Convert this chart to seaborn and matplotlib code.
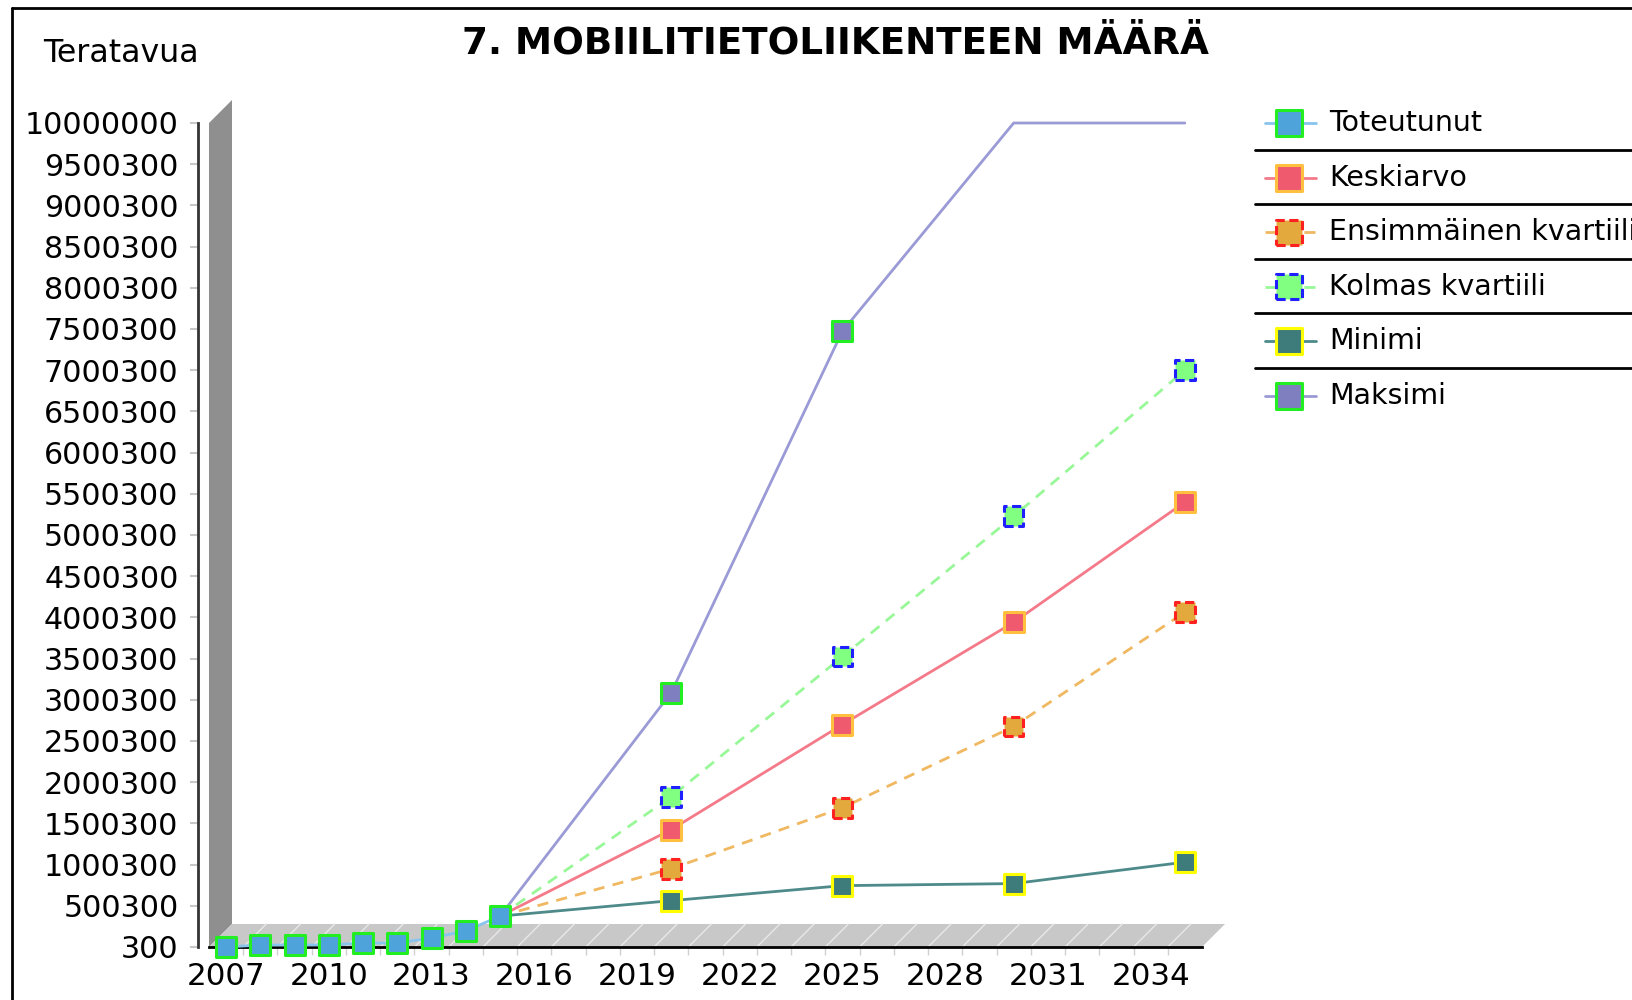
import numpy as np
import pandas as pd
import seaborn as sns
import matplotlib.pyplot as plt
from matplotlib.lines import Line2D
from matplotlib.patches import Polygon
from matplotlib.transforms import IdentityTransform

# toteutunut (actual) 2007-2015, ennusteet (forecasts) 2015-2035
years_actual = [2007, 2008, 2009, 2010, 2011, 2012, 2013, 2014, 2015]
toteutunut = [300, 24000, 24000, 26000, 48000, 48000, 110000, 195000, 375000]

years_fc = [2015, 2020, 2025, 2030, 2035]
keskiarvo = [375000, 1425000, 2700000, 3940000, 5400000]
ens_kvartiili = [375000, 950000, 1690000, 2677000, 4063000]
kolm_kvartiili = [375000, 1823000, 3525000, 5227000, 7000000]
minimi = [375000, 563000, 745000, 770000, 1030000]
maksimi = [375000, 3088000, 7475000, 10000000, 10000000]

y_ticks = [300 + 500000 * k for k in range(20)] + [10000000]
x_labels = list(range(2007, 2035, 3))

# name, x, y, line colour, linestyle, face, edge, edge style, marked points
series = [
    ("Keskiarvo", years_fc, keskiarvo, "#f47a8a", "-", "#f05a6e", "#ffc040", "-", [1, 2, 3, 4]),
    ("Ensimmäinen kvartiili", years_fc, ens_kvartiili, "#f0b860", (0, (4, 3)), "#e3a93c", "#ff2020", (0, (3, 1.5)), [1, 2, 3, 4]),
    ("Kolmas kvartiili", years_fc, kolm_kvartiili, "#98f898", (0, (4, 3)), "#80ff80", "#1f1fff", (0, (3, 1.5)), [1, 2, 3, 4]),
    ("Minimi", years_fc, minimi, "#4e8a8a", "-", "#3e7b7b", "#ffff00", "-", [1, 2, 3, 4]),
    ("Maksimi", years_fc, maksimi, "#9a9ad6", "-", "#7f7fbf", "#22ee22", "-", [1, 2]),
    ("Toteutunut", years_actual, toteutunut, "#88c4ee", "-", "#4fa3db", "#22ee22", "-", list(range(9))),
]
legend_order = ["Toteutunut", "Keskiarvo", "Ensimmäinen kvartiili", "Kolmas kvartiili", "Minimi", "Maksimi"]

sns.set_theme(style="white")
plt.rcParams["font.family"] = ["DejaVu Sans"]
plt.rcParams["text.color"] = "black"
plt.rcParams["xtick.labelcolor"] = "black"
plt.rcParams["ytick.labelcolor"] = "black"

W, H = 1632, 1000
fig = plt.figure(figsize=(W / 100, H / 100), dpi=100)
ax = fig.add_axes([209 / W, 53 / H, 993 / W, 824 / H])
ax.set_facecolor("none")

for name, xs, ys, lc, ls, fc, ec, es, idx in series:
    sns.lineplot(x=xs, y=ys, ax=ax, color=lc, linestyle=ls, linewidth=2, zorder=3, clip_on=False)
    sns.scatterplot(x=[xs[i] for i in idx], y=[ys[i] for i in idx], ax=ax, marker="s", s=200,
                    color=fc, edgecolor=ec, linewidth=2.2, linestyle=es, zorder=4, clip_on=False)

ax.set_xlim(2006.5, 2035.5)
ax.set_ylim(300, 10000000)
ax.set_xlabel("")
ax.set_ylabel("")

ax.set_yticks(y_ticks)
ax.set_yticklabels([str(v) for v in y_ticks])
ax.set_xticks(x_labels)
ax.set_xticklabels([str(v) for v in x_labels])
ax.set_xticks(np.arange(2007.5, 2035.5, 1), minor=True)
ax.tick_params(axis="y", direction="out", length=6, width=1.5, color="#c8c8c8", labelsize=21.7,
               labelcolor="black", pad=8, left=True)
ax.tick_params(axis="x", which="major", length=0, labelsize=22.3, labelcolor="black", pad=11)
ax.tick_params(axis="x", which="minor", direction="out", length=6, width=1, color="#d0d0d0", bottom=True)

for s in ["top", "right"]:
    ax.spines[s].set_visible(False)
ax.spines["left"].set_position(("outward", 8))
ax.spines["left"].set_color("#333333")
ax.spines["left"].set_linewidth(2)
ax.spines["bottom"].set_color("black")
ax.spines["bottom"].set_linewidth(2)
ax.spines["bottom"].set_zorder(2.5)

# 3D wall and floor
d = 23
T = ax.transData
x0, y0 = T.transform((2006.5, 300))
x1, _ = T.transform((2035.5, 300))
_, yt = T.transform((2006.5, 10000000))
wall = Polygon([(x0, y0), (x0, yt), (x0 + d, yt + d), (x0 + d, y0 + d)], closed=True,
               transform=IdentityTransform(), facecolor="#8f8f8f", edgecolor="none", zorder=0.5)
floor = Polygon([(x0, y0), (x1, y0), (x1 + d, y0 + d), (x0 + d, y0 + d)], closed=True,
                transform=IdentityTransform(), facecolor="#c8c8c8", edgecolor="none", zorder=0.6)
for p in (wall, floor):
    ax.add_artist(p)
    p.set_clip_on(False)
for b in np.arange(2007.5, 2035.5, 1):
    xb, _ = T.transform((b, 300))
    ln = Line2D([xb, xb + d], [y0, y0 + d], transform=IdentityTransform(), color="#e8e8e8", lw=1, zorder=0.7)
    ax.add_artist(ln)
    ln.set_clip_on(False)

# titles
fig.text(835 / W, 1 - 43 / H, "7. MOBIILITIETOLIIKENTEEN MÄÄRÄ", ha="center", va="center",
         fontsize=26.8, fontweight="bold", color="black")
fig.text(43 / W, 1 - 54 / H, "Teratavua", ha="left", va="center", fontsize=22.8, color="black")

# frame
fig.add_artist(Line2D([12 / W, 1], [1 - 8 / H, 1 - 8 / H], color="black", lw=2))
fig.add_artist(Line2D([12 / W, 12 / W], [0, 1 - 8 / H], color="black", lw=2))

# legend
lax = fig.add_axes([1240 / W, 0, 392 / W, 1])
lax.set_xlim(1240, 1632)
lax.set_ylim(1000, 0)
lax.axis("off")
info = {s[0]: s for s in series}
for i, name in enumerate(legend_order):
    _, _, _, lc, ls, fc, ec, es, _ = info[name]
    yy = 123 + 54.6 * i
    lax.plot([1265, 1316], [yy, yy], color=lc, linestyle=ls, lw=2, clip_on=False)
    lax.scatter([1289], [yy], marker="s", s=330, color=fc, edgecolor=ec, linewidth=2.2,
                linestyle=es, zorder=3, clip_on=False)
    lax.text(1329, yy, name, ha="left", va="center", fontsize=20.5, color="black", clip_on=False)
    if i < 5:
        lax.plot([1255, 1640], [yy + 26.5, yy + 26.5], color="black", lw=2, clip_on=False)

fig.savefig("out.png", dpi=100)
